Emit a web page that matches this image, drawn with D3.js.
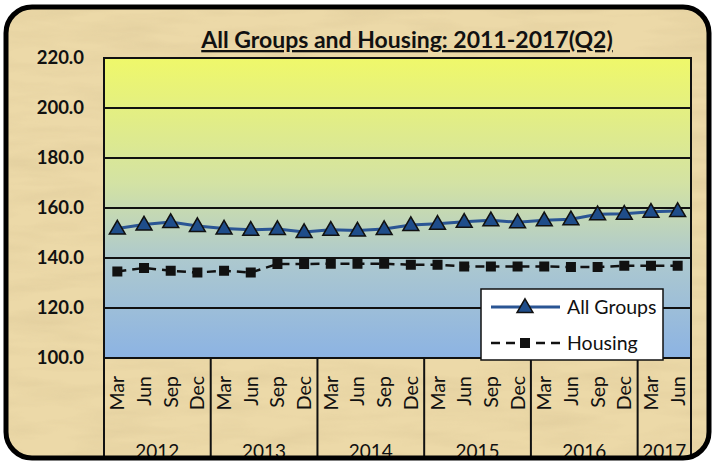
<!DOCTYPE html>
<html>
<head>
<meta charset="utf-8">
<script src="https://cdn.jsdelivr.net/npm/d3@7"></script>
<style>
  html, body { margin: 0; padding: 0; background: #fff; }
  svg { display: block; font-family: Lato, "Open Sans", sans-serif; }
</style>
</head>
<body>
<svg id="chart" width="713" height="462"></svg>
<script>
// ---------------------------------------------------------------------------
// data

const years = ['2012', '2013', '2014', '2015', '2016', '2017'];
const yearQuarters = [4, 4, 4, 4, 4, 2];
const months = ['Mar', 'Jun', 'Sep', 'Dec'];

const allGroups = [
  151.8, 153.4, 154.4, 152.8, 151.8, 151.3, 151.6, 150.4, 151.3, 151.0, 151.6,
  153.2, 153.7, 154.5, 155.1, 154.3, 155.1, 155.5, 157.5, 157.7, 158.5, 158.8
];
const housing = [
  134.6, 136.0, 134.9, 134.2, 134.9, 134.2, 137.6, 137.6, 137.7, 137.7, 137.7,
  137.3, 137.3, 136.6, 136.6, 136.6, 136.6, 136.4, 136.4, 136.9, 136.9, 136.9
];
const yTicks = [100, 120, 140, 160, 180, 200, 220];

const title = 'All Groups and Housing: 2011-2017(Q2)';

// ---------------------------------------------------------------------------

const svg = d3.select('#chart');
const plot = { left: 104, right: 691, top: 58, bottom: 358 };

/** one label per quarter, e.g. 'Mar' */
const quarterLabels = [];
yearQuarters.forEach(n => { for (let i = 0; i < n; i++) quarterLabels.push(months[i]); });

const x = d3.scaleBand()
  .domain(d3.range(quarterLabels.length))
  .range([plot.left, plot.right]);
const cx = i => x(i) + x.bandwidth() / 2;

const y = d3.scaleLinear()
  .domain([100, 220])
  .range([plot.bottom, plot.top]);

const defs = svg.append('defs');

// papyrus-like background texture
const tex = defs.append('filter').attr('id', 'paper')
  .attr('x', 0).attr('y', 0).attr('width', '100%').attr('height', '100%');
tex.append('feTurbulence')
  .attr('type', 'fractalNoise')
  .attr('baseFrequency', '0.012 0.07')
  .attr('numOctaves', 3)
  .attr('seed', 4)
  .attr('result', 'noise');
tex.append('feColorMatrix')
  .attr('in', 'noise')
  .attr('type', 'matrix')
  .attr('values', '0 0 0 0 0.6  0 0 0 0 0.47  0 0 0 0 0.25  0 0 0 -0.9 0.55');

const grad = defs.append('linearGradient').attr('id', 'plotFill')
  .attr('x1', 0).attr('y1', 0).attr('x2', 0).attr('y2', 1);
[[0, '#eff86a'], [0.42, '#d3e2a4'], [0.68, '#acc8cf'], [1, '#8cb3e3']]
  .forEach(([o, c]) => grad.append('stop').attr('offset', o).attr('stop-color', c));

defs.append('clipPath').attr('id', 'frameClip')
  .append('rect')
  .attr('x', 6).attr('y', 7).attr('width', 703).attr('height', 451).attr('rx', 26);

// frame background
const frame = svg.append('g').attr('clip-path', 'url(#frameClip)');
frame.append('rect')
  .attr('x', 0).attr('y', 0).attr('width', 713).attr('height', 462)
  .attr('fill', '#ecd9a8');
frame.append('rect')
  .attr('x', 0).attr('y', 0).attr('width', 713).attr('height', 462)
  .attr('filter', 'url(#paper)')
  .attr('opacity', 0.5);

// plot area
frame.append('rect')
  .attr('x', plot.left).attr('y', plot.top)
  .attr('width', plot.right - plot.left).attr('height', plot.bottom - plot.top)
  .attr('fill', 'url(#plotFill)');

frame.append('g').attr('class', 'grid')
  .selectAll('line')
  .data(yTicks)
  .join('line')
  .attr('x1', plot.left).attr('x2', plot.right)
  .attr('y1', d => y(d)).attr('y2', d => y(d))
  .attr('stroke', '#111').attr('stroke-width', 2);

frame.append('rect')
  .attr('x', plot.left).attr('y', plot.top)
  .attr('width', plot.right - plot.left).attr('height', plot.bottom - plot.top)
  .attr('fill', 'none').attr('stroke', '#111').attr('stroke-width', 2);

// y axis labels
frame.append('g').attr('class', 'y-labels')
  .selectAll('text')
  .data(yTicks)
  .join('text')
  .attr('x', 84)
  .attr('y', d => y(d))
  .attr('dy', '0.35em')
  .attr('text-anchor', 'end')
  .attr('font-size', 18.5)
  .attr('font-weight', 'bold')
  .attr('fill', '#111')
  .text(d => d.toFixed(1));

// category axis: months rotated, years below, separators between years
const yearStarts = d3.cumsum([0, ...yearQuarters]).slice(0, -1);
const boundaries = [...yearStarts.map(i => x(i)), plot.right];

frame.append('g').attr('class', 'x-sep')
  .selectAll('line')
  .data(boundaries)
  .join('line')
  .attr('x1', d => d).attr('x2', d => d)
  .attr('y1', plot.bottom).attr('y2', 462)
  .attr('stroke', '#111').attr('stroke-width', 2);

frame.append('g').attr('class', 'x-months')
  .selectAll('text')
  .data(quarterLabels)
  .join('text')
  .attr('transform', (d, i) => `translate(${cx(i) + 7},376) rotate(-90)`)
  .attr('text-anchor', 'end')
  .attr('font-size', 19.5)
  .attr('fill', '#111')
  .text(d => d);

frame.append('g').attr('class', 'x-years')
  .selectAll('text')
  .data(years)
  .join('text')
  .attr('x', (d, i) => (x(yearStarts[i]) + boundaries[i + 1]) / 2)
  .attr('y', 458)
  .attr('text-anchor', 'middle')
  .attr('font-size', 19)
  .attr('fill', '#111')
  .text(d => d);

// series
const line = d3.line().x((d, i) => cx(i)).y(d => y(d));

const triangle = d3.symbol().type(d3.symbolTriangle).size(110);

function drawTriangle(g, px, py) {
  g.append('path')
    .attr('d', triangle())
    .attr('transform', `translate(${px},${py + 1})`)
    .attr('fill', '#1f4d8a')
    .attr('stroke', '#111')
    .attr('stroke-width', 1.5);
}

function drawSquare(g, px, py) {
  g.append('rect')
    .attr('x', px - 5).attr('y', py - 5)
    .attr('width', 10).attr('height', 10)
    .attr('fill', '#111');
}

const series = frame.append('g').attr('class', 'series');

series.append('path')
  .datum(housing)
  .attr('d', line)
  .attr('fill', 'none')
  .attr('stroke', '#111')
  .attr('stroke-width', 2.5)
  .attr('stroke-dasharray', '9,6');
housing.forEach((v, i) => drawSquare(series, cx(i), y(v)));

series.append('path')
  .datum(allGroups)
  .attr('d', line)
  .attr('fill', 'none')
  .attr('stroke', '#2a5594')
  .attr('stroke-width', 3);
allGroups.forEach((v, i) => drawTriangle(series, cx(i), y(v)));

// legend
const legend = frame.append('g').attr('class', 'legend')
  .attr('transform', 'translate(481,289)');
legend.append('rect')
  .attr('width', 182).attr('height', 71)
  .attr('fill', '#fff').attr('stroke', '#111').attr('stroke-width', 1.5);

legend.append('line')
  .attr('x1', 10).attr('x2', 79).attr('y1', 18).attr('y2', 18)
  .attr('stroke', '#2a5594').attr('stroke-width', 3);
drawTriangle(legend, 44, 18);
legend.append('text')
  .attr('x', 86).attr('y', 18).attr('dy', '0.35em')
  .attr('font-size', 19.5).attr('fill', '#111')
  .text('All Groups');

legend.append('line')
  .attr('x1', 10).attr('x2', 79).attr('y1', 54).attr('y2', 54)
  .attr('stroke', '#111').attr('stroke-width', 2.5)
  .attr('stroke-dasharray', '9,6');
drawSquare(legend, 44, 54);
legend.append('text')
  .attr('x', 86).attr('y', 54).attr('dy', '0.35em')
  .attr('font-size', 19.5).attr('fill', '#111')
  .text('Housing');

// title
frame.append('text')
  .attr('x', 407)
  .attr('y', 48)
  .attr('text-anchor', 'middle')
  .attr('font-size', 23)
  .attr('font-weight', 'bold')
  .attr('text-decoration', 'underline')
  .attr('fill', '#111')
  .text(title);

// rounded border
svg.append('rect')
  .attr('x', 6).attr('y', 7).attr('width', 703).attr('height', 451).attr('rx', 26)
  .attr('fill', 'none').attr('stroke', '#000').attr('stroke-width', 5);
</script>
</body>
</html>
